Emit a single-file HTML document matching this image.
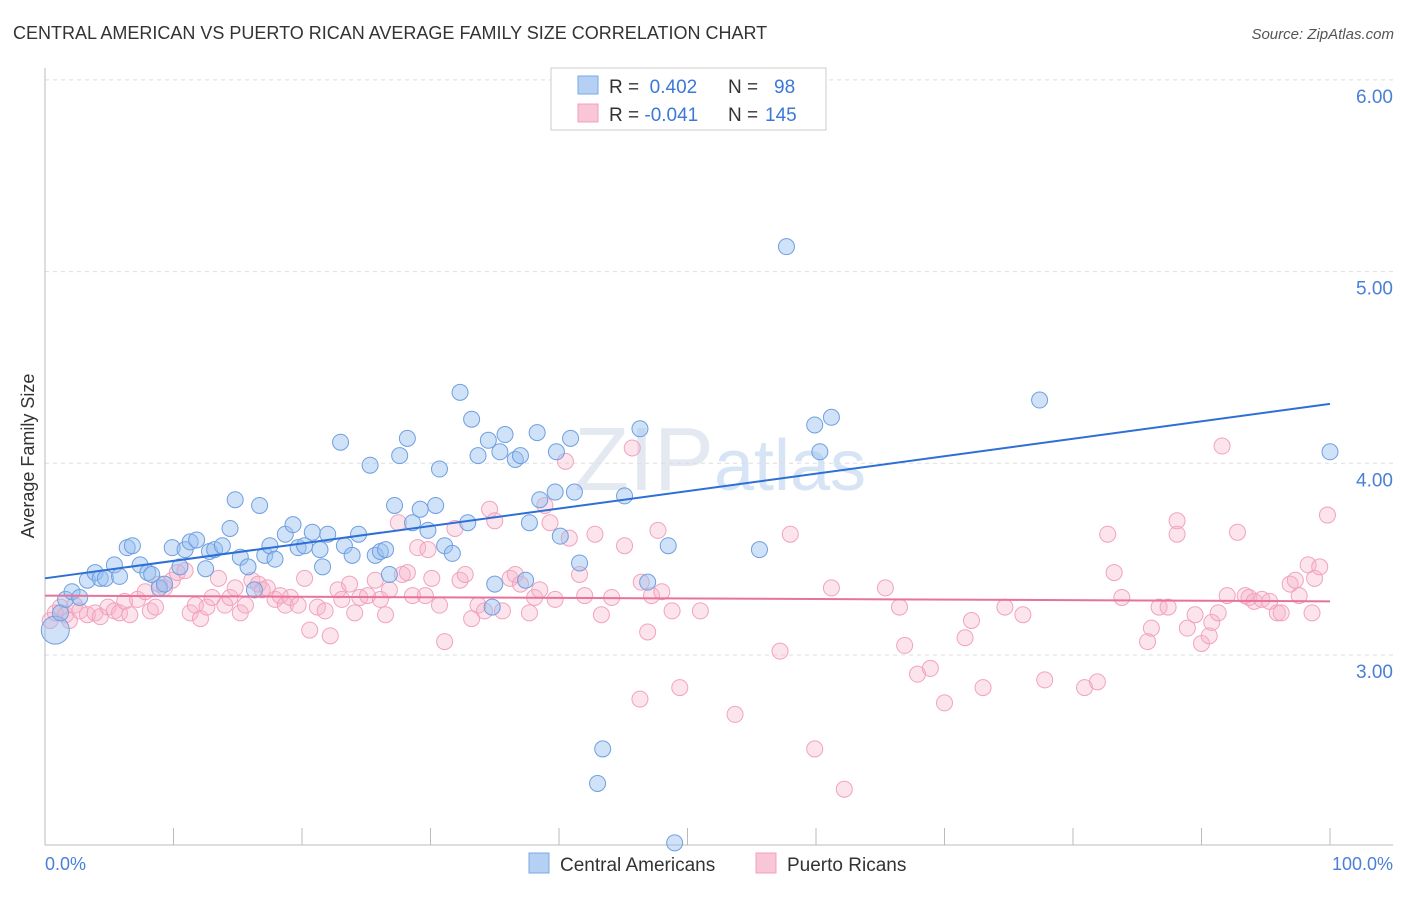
<!DOCTYPE html>
<html><head><meta charset="utf-8"><style>
body{margin:0;background:#fff;font-family:"Liberation Sans",sans-serif;}
svg text{font-family:"Liberation Sans",sans-serif;}
</style></head><body>
<svg id="chart" width="1406" height="892">
<text x="13" y="39" font-size="18" fill="#333">CENTRAL AMERICAN VS PUERTO RICAN AVERAGE FAMILY SIZE CORRELATION CHART</text>
<text x="1394" y="39" font-size="15" fill="#555" font-style="italic" text-anchor="end">Source: ZipAtlas.com</text>
<text x="720" y="490" font-size="90" fill="#e4e9f1" text-anchor="middle" font-family="Liberation Serif">ZIP<tspan fill="#d6e4f5" font-family="Liberation Sans" font-size="72">atlas</tspan></text>
<g id="grid"></g>
<g id="axes"></g>
<g id="pts"></g>
<g id="lines"></g>
<text transform="translate(34,456) rotate(-90)" font-size="18" fill="#333" text-anchor="middle">Average Family Size</text>
<text x="45" y="870" font-size="18" fill="#4a7fd8">0.0%</text>
<text x="1393" y="870" font-size="18" fill="#4a7fd8" text-anchor="end">100.0%</text>
<g>
<rect x="551" y="68" width="275" height="62" fill="#fff" stroke="#ccc"/>
<rect x="578" y="76" width="20" height="18" fill="#b6d0f3" stroke="#7aa8e8"/>
<rect x="578" y="104" width="20" height="18" fill="#f8c6d6" stroke="#f0a0bc"/>
<text x="609" y="93" font-size="19" fill="#333">R = <tspan fill="#3b78d8">&#160;0.402</tspan><tspan x="728">N = </tspan><tspan x="774" fill="#3b78d8">98</tspan></text>
<text x="609" y="121" font-size="19" fill="#333">R = <tspan fill="#3b78d8">-0.041</tspan><tspan x="728">N = </tspan><tspan x="765" fill="#3b78d8">145</tspan></text>
</g>
<g>
<rect x="529" y="853" width="20" height="20" fill="#b6d0f3" stroke="#7aa8e8"/>
<text x="560" y="871" font-size="19" fill="#333">Central Americans</text>
<rect x="756" y="853" width="20" height="20" fill="#f8c6d6" stroke="#f0a0bc"/>
<text x="787" y="871" font-size="19" fill="#333">Puerto Ricans</text>
</g>
</svg>
<script>
const yTicks=[3,4,5,6];
const yTickLabels=["3.00","4.00","5.00","6.00"];
const xTicks=[0,10,20,30,40,50,60,70,80,90,100];
const blueX=[0.8,1.2,1.6,2.1,2.7,3.3,3.9,4.3,4.7,5.4,5.8,6.4,6.8,7.4,8.0,8.3,8.9,9.3,9.9,10.5,10.9,11.3,11.8,12.5,12.8,13.2,13.8,14.4,14.8,15.2,15.8,16.3,16.7,17.1,17.5,17.9,18.7,19.3,19.7,20.2,20.8,21.4,21.6,22.0,23.0,23.3,23.9,24.4,25.3,25.7,26.1,26.5,26.8,27.2,27.6,28.2,28.6,29.2,29.8,30.4,30.7,31.1,31.7,32.3,32.9,33.2,33.7,34.5,35.0,35.4,35.8,36.6,37.0,37.4,37.7,38.3,38.5,39.7,39.8,40.1,40.9,41.2,41.6,43.0,43.4,45.1,46.3,46.9,48.5,49.0,55.6,57.7,59.9,60.3,61.2,77.4,100,34.8];
const blueY=[3.13,3.22,3.29,3.33,3.30,3.39,3.43,3.40,3.40,3.47,3.41,3.56,3.57,3.47,3.43,3.42,3.35,3.37,3.56,3.46,3.55,3.59,3.60,3.45,3.54,3.55,3.57,3.66,3.81,3.51,3.46,3.34,3.78,3.52,3.57,3.50,3.63,3.68,3.56,3.57,3.64,3.55,3.46,3.63,4.11,3.57,3.52,3.63,3.99,3.52,3.54,3.55,3.42,3.78,4.04,4.13,3.69,3.76,3.65,3.78,3.97,3.57,3.53,4.37,3.69,4.23,4.04,4.12,3.37,4.06,4.15,4.02,4.04,3.39,3.69,4.16,3.81,3.85,4.06,3.62,4.13,3.85,3.48,2.33,2.51,3.83,4.18,3.38,3.57,2.02,3.55,5.13,4.20,4.06,4.24,4.33,4.06,3.25];
const pinkX=[0.4,0.8,1.2,1.6,1.9,2.3,2.7,3.3,3.9,4.3,4.9,5.4,5.8,6.2,6.6,7.2,7.8,8.2,8.6,8.9,9.3,9.9,10.3,10.9,11.3,11.7,12.1,12.6,13.0,13.5,14.0,14.4,14.8,15.2,15.6,16.1,16.6,16.9,17.3,17.9,18.3,18.7,19.1,19.7,20.2,20.6,21.2,21.8,22.2,22.8,23.1,23.7,24.1,24.5,25.1,25.7,26.1,26.5,26.8,27.5,27.8,28.2,28.6,29.0,29.6,29.8,30.1,30.7,31.1,31.9,32.3,32.7,33.2,33.7,34.2,34.6,35.0,35.6,36.2,36.6,37.0,37.7,38.1,38.5,38.9,39.3,39.7,40.5,40.8,41.6,42.0,42.8,43.3,44.1,45.1,45.7,46.4,46.3,46.9,47.2,47.7,48.0,48.8,49.4,51.0,53.7,57.2,58.0,59.9,61.2,62.2,65.4,66.5,66.9,67.9,68.9,70.0,71.6,72.1,73.0,74.7,76.1,77.8,80.9,81.9,82.7,83.2,83.8,85.8,86.1,86.7,87.4,88.1,88.1,88.9,89.5,90.0,90.6,90.8,91.3,91.6,92.0,92.8,93.4,93.7,94.1,94.7,95.3,95.9,96.2,96.9,97.3,97.6,98.3,98.6,98.8,99.2,99.8];
const pinkY=[3.18,3.22,3.25,3.21,3.18,3.26,3.23,3.21,3.22,3.20,3.25,3.23,3.22,3.28,3.21,3.29,3.33,3.23,3.25,3.37,3.35,3.39,3.43,3.44,3.22,3.26,3.19,3.25,3.30,3.40,3.26,3.30,3.35,3.22,3.26,3.39,3.37,3.34,3.35,3.29,3.31,3.26,3.30,3.26,3.40,3.13,3.25,3.23,3.10,3.34,3.29,3.37,3.22,3.30,3.31,3.39,3.29,3.21,3.34,3.69,3.42,3.43,3.31,3.56,3.31,3.55,3.40,3.26,3.07,3.66,3.39,3.42,3.19,3.26,3.23,3.76,3.70,3.23,3.40,3.42,3.37,3.22,3.30,3.34,3.78,3.69,3.29,4.01,3.61,3.42,3.31,3.63,3.21,3.30,3.57,4.08,3.38,2.77,3.12,3.31,3.65,3.33,3.23,2.83,3.23,2.69,3.02,3.63,2.51,3.35,2.30,3.35,3.25,3.05,2.90,2.93,2.75,3.09,3.18,2.83,3.25,3.21,2.87,2.83,2.86,3.63,3.43,3.30,3.07,3.14,3.25,3.25,3.70,3.63,3.14,3.21,3.06,3.10,3.17,3.22,4.09,3.31,3.64,3.31,3.30,3.28,3.29,3.28,3.22,3.22,3.37,3.39,3.31,3.47,3.22,3.40,3.46,3.73];
const blueTrend=[3.40,4.31];
const pinkTrend=[3.31,3.28];

const NS="http://www.w3.org/2000/svg";
const xS=p=>45+p*12.85;
const yS=v=>655-(v-3)*191.7;
function mk(tag,attrs,parent){const e=document.createElementNS(NS,tag);for(const k in attrs)e.setAttribute(k,attrs[k]);document.getElementById(parent).appendChild(e);return e;}
yTicks.forEach((t,i)=>{
 const l=mk('line',{x1:45,x2:1393,y1:yS(t),y2:yS(t),stroke:'#ddd','stroke-dasharray':'4,4'},'grid');
 
 
 const tx=mk('text',{x:1393,y:yS(t)+23,'font-size':19,fill:'#4a7fd8','text-anchor':'end'},'grid');
 tx.textContent=yTickLabels[i];
 
 
});
const ax=mk('line',{x1:45,x2:1393,y1:845,y2:845,stroke:'#bbb'},'axes');


const ay=mk('line',{x1:45,x2:45,y1:68,y2:845,stroke:'#bbb'},'axes');


xTicks.forEach(t=>{
 const l=mk('line',{x1:xS(t),x2:xS(t),y1:828,y2:845,stroke:'#bbb'},'axes');
 
 
});
pinkX.forEach((x,i)=>{
 const c=mk('circle',{cx:xS(x),cy:yS(pinkY[i]),r:8,fill:'rgba(246,178,201,0.35)',stroke:'#f2a2bf','stroke-width':1},'pts');
 
 
});
blueX.forEach((x,i)=>{
 const c=mk('circle',{cx:xS(x),cy:yS(blueY[i]),r:i===0?14:8,fill:'rgba(150,190,240,0.45)',stroke:'#6f9fe0','stroke-width':1},'pts');
 
 
});
const bl=mk('line',{x1:xS(0),x2:xS(100),y1:yS(blueTrend[0]),y2:yS(blueTrend[1]),stroke:'#2e6fd6','stroke-width':2},'lines');


const pl=mk('line',{x1:xS(0),x2:xS(100),y1:yS(pinkTrend[0]),y2:yS(pinkTrend[1]),stroke:'#e8729a','stroke-width':2},'lines');


</script>
</body></html>
